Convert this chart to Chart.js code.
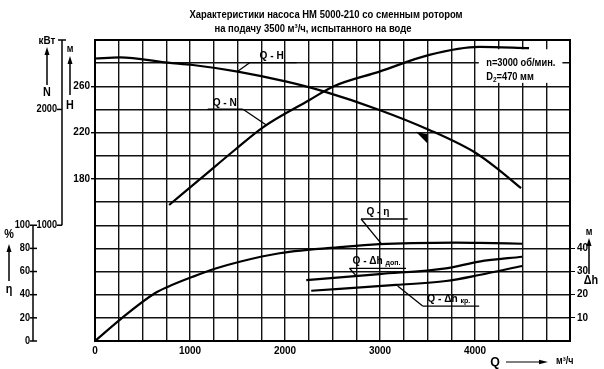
<!DOCTYPE html>
<html><head><meta charset="utf-8">
<script src="https://cdn.jsdelivr.net/npm/chart.js@4.4.1/dist/chart.umd.min.js"></script>
<style>html,body{margin:0;padding:0;background:#fff}</style>
</head><body>
<canvas id="c" width="604" height="369"></canvas>
<script>
const FONT = '"Liberation Sans",Arial,sans-serif';
const titleLines = ['Характеристики насоса НМ 5000-210 со сменным ротором', 'на подачу 3500 м³/ч, испытанного на воде'];

// Q - H  (head, m)
const qH   = [0, 263, 767, 1030, 1502, 2017, 2416, 2994, 3519, 4012, 4254, 4485];
const valH = [284, 285, 280.4, 278.4, 272.7, 264, 255.4, 239.6, 222.3, 202.2, 187.7, 172];
// Q - N  (power, kW)
const qN   = [780, 1124, 1471, 1768, 2258, 2503, 2994, 3519, 4044, 4569];
const valN = [1175, 1411, 1650, 1846, 2082, 2197, 2327, 2471, 2540, 2530];
// Q - eta (%)
const qEta   = [0, 280, 630, 770, 1033, 1278, 1523, 1943, 2644, 2994, 3340, 3799, 4044, 4496];
const valEta = [0, 19.6, 41.2, 46.9, 55.6, 62.8, 68.5, 75.8, 81.5, 83.6, 84.6, 85, 84.8, 84];
// Q - dh доп. (m)
const qDhDop   = [2224, 2994, 3694, 4044, 4496];
const valDhDop = [26.3, 28.9, 31.4, 34.3, 36.4];
// Q - dh кр. (m)
const qDhKr   = [2276, 3169, 3694, 4044, 4496];
const valDhKr = [21.7, 24.2, 25.9, 28.5, 32.4];

// tick labels
const xLabels  = [0, 1000, 2000, 3000, 4000];
const hLabels  = [180, 220, 260];
const nLabels  = [1000, 2000];
const etaLabels = [0, 20, 40, 60, 80, 100];
const dhLabels = [10, 20, 30, 40];

const toXY = (xs, ys) => xs.map((v, i) => ({x: v, y: ys[i]}));
const f = (size, w) => ({family: FONT, size: size, weight: w || 'bold'});

// draw horizontally condensed text
function ctext(ctx, t, x, y, sx, align){
  ctx.save();
  ctx.translate(x, y); ctx.scale(sx, 1);
  ctx.textAlign = align || 'left';
  ctx.fillText(t, 0, 0);
  ctx.restore();
  return ctx.measureText(t).width * sx;
}
function arrowUp(ctx, x, yTip, yTail){
  ctx.beginPath(); ctx.lineWidth = 1.5; ctx.moveTo(x, yTail); ctx.lineTo(x, yTip + 6); ctx.stroke();
  ctx.beginPath(); ctx.moveTo(x, yTip); ctx.lineTo(x - 2.5, yTip + 8); ctx.lineTo(x + 2.5, yTip + 8); ctx.closePath(); ctx.fill();
}
function arrowRight(ctx, xTail, xTip, y){
  ctx.beginPath(); ctx.lineWidth = 1.2; ctx.moveTo(xTail, y); ctx.lineTo(xTip - 6, y); ctx.stroke();
  ctx.beginPath(); ctx.moveTo(xTip, y); ctx.lineTo(xTip - 9, y - 2.2); ctx.lineTo(xTip - 9, y + 2.2); ctx.closePath(); ctx.fill();
}

const extras = {
  id: 'extras',
  beforeDatasetsDraw(chart){
    const {ctx, scales: {x, yH}} = chart;
    const x1 = x.getPixelForValue(4040), x2 = x.getPixelForValue(4920);
    const y1 = yH.getPixelForValue(292), y2 = yH.getPixelForValue(263);
    ctx.save(); ctx.fillStyle = '#fff'; ctx.fillRect(x1, y1, x2 - x1, y2 - y1); ctx.restore();
  },
  afterDatasetsDraw(chart){
    const {ctx, scales: {x, yH}} = chart;
    const P = (q, h) => [x.getPixelForValue(q), yH.getPixelForValue(h)];
    ctx.save();
    ctx.fillStyle = '#000'; ctx.strokeStyle = '#000';
    const labels = [
      {t: 'Q - H', sub: '', tq: 1859, th: 286.2, u1: 1628, u2: 2122, uh: 280.4, from: [1628, 280.4], to: [1492, 272.4]},
      {t: 'Q - N', sub: '', tq: 1366, th: 245.6, u1: 1187, u2: 1555, uh: 240.2, from: [1558, 240.2], to: [1803, 226.6]},
      {t: 'Q - η', sub: '', tq: 2978, th: 151.4, u1: 2801, u2: 3291, uh: 145.4, from: [2801, 145.4], to: [3011, 124.4]},
      {t: 'Q - Δh', sub: 'доп.', tq: 2710, th: 109.1, left: true, u1: 2679, u2: 3274, uh: 102.8, from: [2679, 102.8], to: [2749, 96.2]},
      {t: 'Q - Δh', sub: 'кр.', tq: 3498, th: 76.3, left: true, u1: 3449, u2: 4044, uh: 70.2, from: [3449, 70.2], to: [3186, 87.5]}
    ];
    ctx.textBaseline = 'middle';
    labels.forEach(L => {
      const [tx, ty] = P(L.tq, L.th);
      ctx.font = 'bold 11.5px ' + FONT;
      if (L.left) {
        const w = ctext(ctx, L.t + ' ', tx, ty, 0.88, 'left');
        ctx.font = 'bold 8px ' + FONT;
        ctext(ctx, L.sub, tx + w, ty + 2, 0.88, 'left');
      } else {
        ctext(ctx, L.t, tx, ty, 0.88, 'center');
      }
      const [ux1, uy] = P(L.u1, L.uh); const [ux2] = P(L.u2, L.uh);
      ctx.lineWidth = 1.3;
      ctx.beginPath(); ctx.moveTo(ux1, uy); ctx.lineTo(ux2, uy); ctx.stroke();
      const a = P(L.from[0], L.from[1]), b = P(L.to[0], L.to[1]);
      ctx.beginPath(); ctx.moveTo(a[0], a[1]); ctx.lineTo(b[0], b[1]); ctx.stroke();
    });
    // nominal point marker
    const A = P(3378, 220.8), B = P(3500, 218.5), C = P(3500, 210.7);
    ctx.beginPath(); ctx.moveTo(A[0], A[1]); ctx.lineTo(B[0], B[1]); ctx.lineTo(C[0], C[1]); ctx.closePath(); ctx.fill();
    // info text
    ctx.font = 'bold 10px ' + FONT;
    const [ix, iy1] = P(4118, 280.2); const [, iy2] = P(4118, 268.1);
    ctext(ctx, 'n=3000 об/мин.', ix, iy1, 0.93);
    const wd = ctext(ctx, 'D', ix, iy2, 0.93);
    ctx.font = 'bold 7px ' + FONT;
    const w2 = ctext(ctx, '2', ix + wd, iy2 + 3, 0.93);
    ctx.font = 'bold 10px ' + FONT;
    ctext(ctx, '=470 мм', ix + wd + w2, iy2, 0.93);
    ctx.restore();
  },
  afterDraw(chart){
    const {ctx, chartArea: ca, scales: {yN, yEta}} = chart;
    ctx.save();
    ctx.strokeStyle = '#000'; ctx.fillStyle = '#000';
    // title
    ctx.font = 'bold 11px ' + FONT; ctx.textBaseline = 'middle';
    ctext(ctx, titleLines[0], 326, 15, 0.86, 'center');
    ctext(ctx, titleLines[1], 313, 29, 0.86, 'center');
    // frame
    ctx.lineWidth = 2;
    ctx.strokeRect(ca.left, ca.top, ca.right - ca.left, ca.bottom - ca.top);
    // N axis
    const xN = 62;
    const nTop = yN.getPixelForValue(2600), nBot = yN.getPixelForValue(1000);
    ctx.lineWidth = 1.5;
    ctx.beginPath(); ctx.moveTo(xN, nTop); ctx.lineTo(xN, nBot); ctx.stroke();
    ctx.beginPath(); ctx.moveTo(xN - 4, nTop); ctx.lineTo(xN + 4, nTop); ctx.stroke();
    ctx.font = 'bold 10px ' + FONT; ctx.textAlign = 'right'; ctx.textBaseline = 'middle';
    nLabels.forEach(v => {
      const y = yN.getPixelForValue(v);
      ctx.beginPath(); ctx.moveTo(xN - 5, y); ctx.lineTo(xN, y); ctx.stroke();
      ctext(ctx, String(v), xN - 5, y, 0.92, 'right');
    });
    // eta axis
    const xE = 33;
    const eTop = yEta.getPixelForValue(100), eBot = yEta.getPixelForValue(0);
    ctx.beginPath(); ctx.moveTo(xE, eTop); ctx.lineTo(xE, eBot); ctx.stroke();
    etaLabels.forEach(v => {
      const y = yEta.getPixelForValue(v);
      ctx.beginPath(); ctx.moveTo(xE - 3, y); ctx.lineTo(xE + 4, y); ctx.stroke();
      ctext(ctx, String(v), xE - 3, y, 0.92, 'right');
    });
    // axis names
    ctx.font = 'bold 11px ' + FONT;
    ctext(ctx, 'кВт', 47, 41, 0.9, 'center');
    arrowUp(ctx, 47, 47, 85);
    ctx.font = 'bold 12px ' + FONT;
    ctext(ctx, 'N', 47, 93, 0.9, 'center');
    ctx.font = 'bold 10px ' + FONT;
    ctext(ctx, 'м', 70, 49, 0.9, 'center');
    arrowUp(ctx, 70, 56, 95);
    ctx.font = 'bold 12px ' + FONT;
    ctext(ctx, 'H', 70, 106, 0.9, 'center');
    ctext(ctx, '%', 9, 235, 0.9, 'center');
    arrowUp(ctx, 9, 244, 281);
    ctext(ctx, 'η', 9, 290, 0.9, 'center');
    ctx.font = 'bold 10px ' + FONT;
    ctext(ctx, 'м', 589, 232, 0.9, 'center');
    arrowUp(ctx, 589, 238, 274);
    ctx.font = 'bold 12px ' + FONT;
    ctext(ctx, 'Δh', 591, 281, 0.9, 'center');
    // Q arrow
    ctx.font = 'bold 13px ' + FONT;
    ctext(ctx, 'Q', 495, 362, 0.95, 'center');
    arrowRight(ctx, 506, 548, 362);
    ctx.font = 'bold 10px ' + FONT;
    ctext(ctx, 'м³/ч', 556, 361, 0.9, 'left');
    ctx.restore();
  }
};

const lineDs = (label, xs, ys, axis) => ({
  label: label, data: toXY(xs, ys), yAxisID: axis,
  borderColor: '#000', borderWidth: 2.2, pointRadius: 0, fill: false,
  cubicInterpolationMode: 'monotone'
});

const lab = arr => (c => arr.includes(c.tick.value) ? '#000' : 'rgba(0,0,0,0)');

new Chart(document.getElementById('c'), {
  type: 'line',
  data: {datasets: [
    lineDs('Q - H', qH, valH, 'yH'),
    lineDs('Q - N', qN, valN, 'yN'),
    lineDs('Q - η', qEta, valEta, 'yEta'),
    lineDs('Q - Δh доп.', qDhDop, valDhDop, 'yDh'),
    lineDs('Q - Δh кр.', qDhKr, valDhKr, 'yDh')
  ]},
  options: {
    responsive: false, animation: false, devicePixelRatio: 1,
    layout: {padding: {top: 40, left: 0, right: 0, bottom: 0}},
    plugins: {
      legend: {display: false}, tooltip: {enabled: false}, title: {display: false}
    },
    scales: {
      x: {type: 'linear', min: 0, max: 5000,
        ticks: {stepSize: 250, autoSkip: false, maxRotation: 0, color: '#000', font: f(10), padding: 4,
          callback: v => xLabels.includes(v) ? String(v) : ''},
        grid: {color: '#111', lineWidth: 1.4, drawTicks: false},
        border: {display: true, color: '#000', width: 2},
        afterFit(s){ s.height = 28; }},
      yH: {type: 'linear', position: 'left', min: 40, max: 300,
        ticks: {stepSize: 20, autoSkip: false, color: '#000', font: f(10), padding: 1,
          callback: v => hLabels.includes(v) ? String(v) : ''},
        grid: {color: '#111', lineWidth: 1.4, tickLength: 4, tickColor: lab(hLabels)},
        border: {display: true, color: '#000', width: 2},
        afterFit(s){ s.width = 95; }},
      yDh: {type: 'linear', position: 'right', min: 0, max: 130,
        ticks: {stepSize: 10, autoSkip: false, color: '#000', font: f(10), padding: 2,
          callback: v => dhLabels.includes(v) ? String(v) : ''},
        grid: {drawOnChartArea: false, tickLength: 5, tickColor: lab(dhLabels)},
        border: {display: true, color: '#000', width: 2},
        afterFit(s){ s.width = 34; }},
      yN: {type: 'linear', display: false, min: 0, max: 2600},
      yEta: {type: 'linear', display: false, min: 0, max: 260}
    }
  },
  plugins: [extras]
});
</script>
</body></html>
